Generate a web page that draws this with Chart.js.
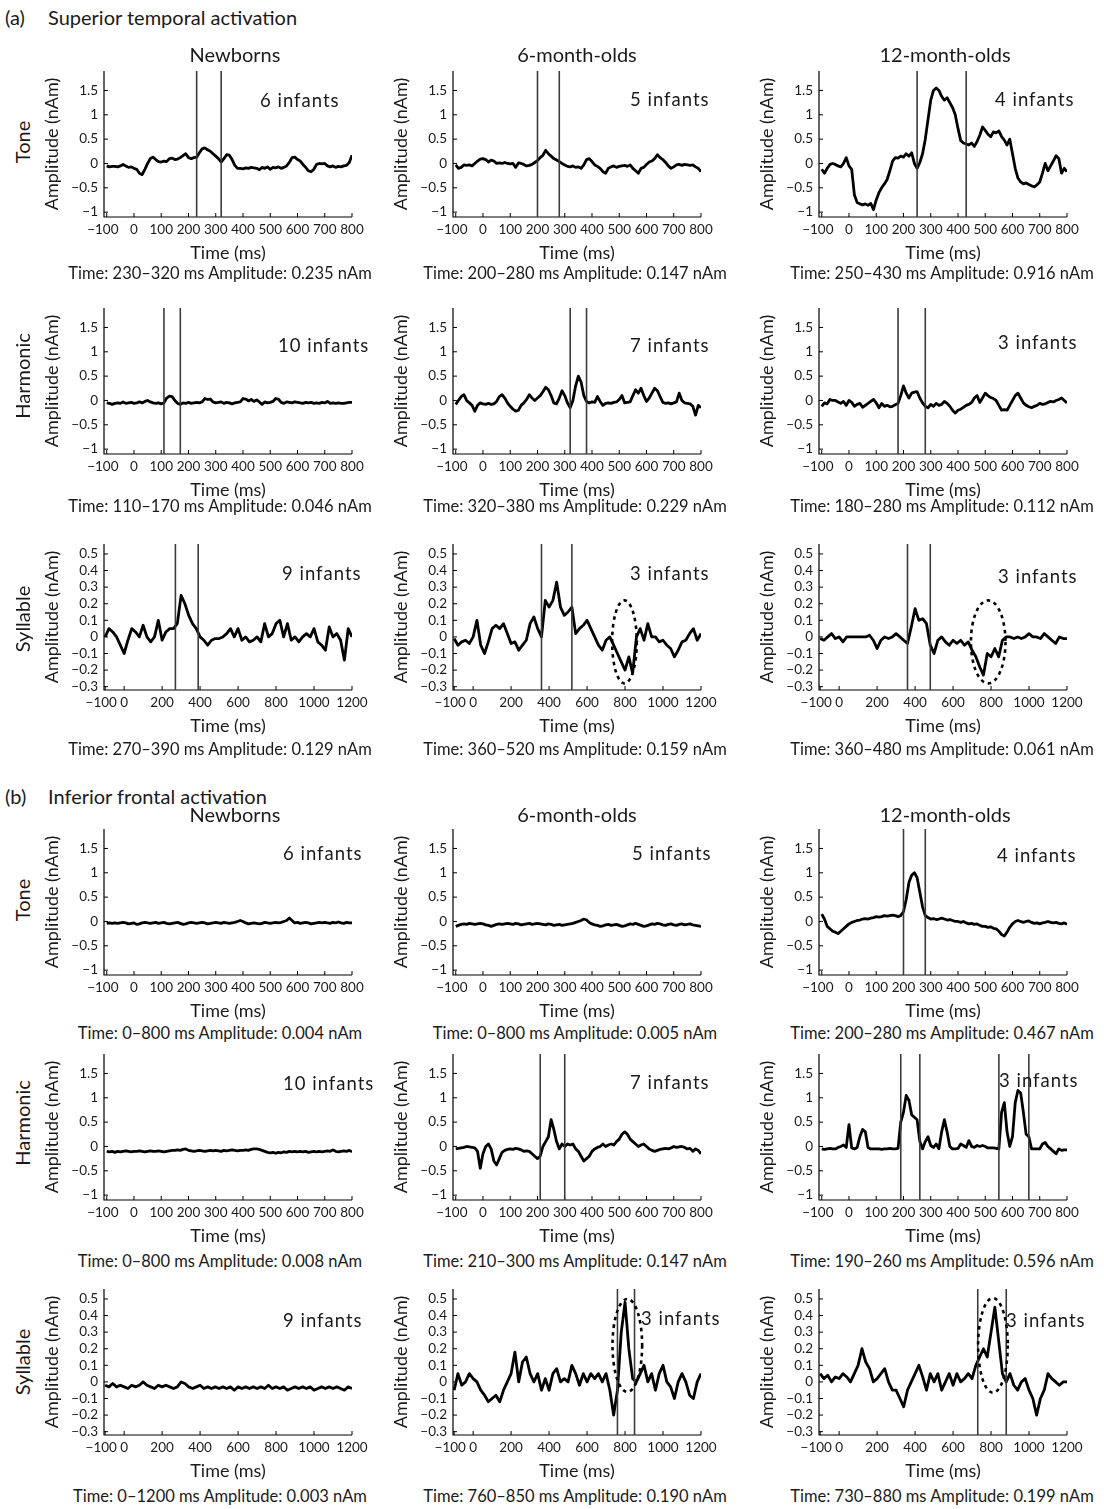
<!DOCTYPE html>
<html>
<head>
<meta charset="utf-8">
<script src="https://cdn.jsdelivr.net/npm/chart.js@4.4.0/dist/chart.umd.min.js"></script>
<style>
body{margin:0;width:1104px;height:1509px;background:#fff;position:relative;overflow:hidden;font-family:Lato,"Open Sans",sans-serif;color:#1a1a1a}
.t{position:absolute;white-space:nowrap;line-height:1.2}
canvas{position:absolute}
</style>
</head>
<body>
<script>
// ==================================================
// Data: time bases, tick labels, source waveforms
// ==================================================
const TIME_A=[-100,-90,-80,-70,-60,-50,-40,-30,-20,-10,0,10,20,30,40,50,60,70,80,90,100,110,120,130,140,150,160,170,180,190,200,210,220,230,240,250,260,270,280,290,300,310,320,330,340,350,360,370,380,390,400,410,420,430,440,450,460,470,480,490,500,510,520,530,540,550,560,570,580,590,600,610,620,630,640,650,660,670,680,690,700,710,720,730,740,750,760,770,780,790,800];
const TIME_B=[-100,-80,-60,-40,-20,0,20,40,60,80,100,120,140,160,180,200,220,240,260,280,300,320,340,360,380,400,420,440,460,480,500,520,540,560,580,600,620,640,660,680,700,720,740,760,780,800,820,840,860,880,900,920,940,960,980,1000,1020,1040,1060,1080,1100,1120,1140,1160,1180,1200];
const XTICKS_A=[-100,0,100,200,300,400,500,600,700,800];
const XTICKS_B=[-100,0,200,400,600,800,1000,1200];
const YTICKS_A=[-1,-0.5,0,0.5,1,1.5];
const YTICKS_B=[-0.3,-0.2,-0.1,0,0.1,0.2,0.3,0.4,0.5];

// (a) superior temporal
const ST_TONE_NB=[-0.05,-0.07,-0.06,-0.06,-0.07,-0.05,-0.02,-0.05,-0.08,-0.07,
 -0.1,-0.12,-0.2,-0.23,-0.12,0.0,0.1,0.13,0.08,0.04,
 0.03,0.05,0.04,0.1,0.11,0.08,0.09,0.12,0.16,0.2,
 0.12,0.1,0.12,0.13,0.22,0.3,0.32,0.28,0.25,0.2,
 0.15,0.1,0.03,0.1,0.18,0.17,0.08,-0.04,-0.1,-0.1,
 -0.11,-0.09,-0.1,-0.08,-0.09,-0.1,-0.13,-0.08,-0.1,-0.07,
 -0.12,-0.08,-0.09,-0.07,-0.1,-0.08,-0.05,0.02,0.12,0.13,
 0.08,0.05,-0.02,-0.08,-0.15,-0.17,-0.12,-0.02,0.0,-0.01,
 0.0,-0.05,-0.07,-0.05,-0.08,-0.06,-0.07,-0.05,-0.04,0.02,
 0.17];
const ST_TONE_6M=[-0.03,-0.1,-0.08,-0.03,-0.04,-0.03,-0.05,0.0,0.05,0.09,
 0.1,0.08,0.03,0.07,0.05,0.0,0.01,0.0,0.02,0.0,
 -0.01,0.0,-0.08,0.01,0.0,-0.02,-0.05,-0.04,-0.02,0.02,
 0.06,0.12,0.17,0.27,0.2,0.15,0.1,0.07,0.04,0.0,
 -0.03,-0.06,-0.07,-0.05,-0.08,-0.07,-0.1,-0.03,0.08,0.1,
 0.04,-0.03,-0.06,-0.1,-0.17,-0.2,-0.1,-0.07,-0.05,-0.08,
 -0.06,-0.05,-0.04,-0.06,-0.03,-0.1,-0.15,-0.2,-0.1,-0.08,
 -0.02,0.03,0.05,0.1,0.18,0.12,0.08,0.02,-0.05,-0.1,
 -0.07,-0.03,-0.02,-0.04,-0.02,-0.03,-0.04,-0.03,-0.07,-0.1,
 -0.17];
const ST_TONE_12M=[-0.12,-0.2,-0.1,-0.02,0.0,-0.02,-0.05,-0.07,0.0,0.12,
 -0.05,-0.12,-0.65,-0.8,-0.83,-0.85,-0.83,-0.86,-0.82,-0.95,
 -0.75,-0.6,-0.5,-0.42,-0.33,-0.15,0.05,0.12,0.11,0.15,
 0.13,0.2,0.15,0.22,0.0,-0.1,0.02,0.2,0.5,0.9,
 1.3,1.5,1.55,1.5,1.38,1.3,1.35,1.25,1.15,1.0,
 0.72,0.47,0.42,0.4,0.38,0.42,0.35,0.45,0.58,0.75,
 0.68,0.6,0.55,0.65,0.63,0.67,0.55,0.48,0.38,0.5,
 0.2,-0.1,-0.3,-0.38,-0.42,-0.4,-0.43,-0.46,-0.48,-0.44,
 -0.38,-0.2,0.0,-0.15,-0.05,0.05,0.16,0.1,-0.2,-0.1,
 -0.17];
const ST_HARM_NB=[-0.05,-0.06,-0.08,-0.06,-0.05,-0.06,-0.03,-0.06,-0.05,-0.04,
 -0.06,-0.05,-0.03,-0.05,-0.02,0.0,-0.03,-0.05,-0.06,-0.05,
 -0.07,-0.05,0.05,0.09,0.08,0.0,-0.06,-0.08,-0.05,-0.06,
 -0.04,-0.06,-0.05,-0.04,-0.05,-0.03,0.04,0.02,0.03,-0.03,
 -0.05,-0.04,-0.03,-0.06,-0.04,-0.05,-0.07,-0.05,-0.04,-0.03,
 0.04,0.03,-0.01,0.02,-0.02,0.01,-0.03,-0.08,-0.03,-0.05,
 -0.04,-0.02,0.04,0.03,-0.04,-0.06,-0.03,-0.04,-0.05,-0.03,
 -0.04,-0.05,-0.06,-0.04,-0.05,-0.04,-0.06,-0.05,-0.06,-0.04,
 -0.05,-0.02,-0.06,-0.05,-0.06,-0.05,-0.06,-0.06,-0.05,-0.04,
 -0.04];
const ST_HARM_6M=[-0.08,0.0,0.08,0.12,0.0,-0.05,-0.1,-0.22,-0.1,-0.05,
 -0.07,-0.08,-0.06,-0.08,-0.07,-0.02,0.08,0.12,0.05,-0.05,
 -0.12,-0.18,-0.22,-0.2,-0.1,-0.05,0.02,0.12,0.05,0.0,
 0.05,0.1,0.18,0.27,0.22,0.1,-0.05,-0.07,0.05,0.2,
 0.1,-0.05,-0.15,0.0,0.3,0.5,0.38,0.1,-0.02,-0.05,
 -0.03,-0.04,0.08,-0.02,-0.1,-0.06,-0.05,-0.06,-0.04,-0.03,
 0.02,0.1,-0.05,-0.04,-0.03,0.1,0.22,0.15,0.25,0.1,
 -0.02,0.05,0.15,0.25,0.2,0.08,-0.04,-0.06,-0.05,-0.07,
 -0.05,-0.03,0.15,0.0,-0.05,-0.06,-0.07,-0.12,-0.3,-0.1,
 -0.15];
const ST_HARM_12M=[-0.12,-0.05,-0.07,0.02,0.0,0.0,-0.03,-0.06,-0.02,-0.1,
 0.0,-0.04,-0.12,-0.08,-0.06,-0.14,-0.1,-0.06,-0.02,0.02,
 -0.05,-0.15,-0.06,-0.12,-0.1,-0.13,-0.12,-0.09,-0.06,0.1,
 0.3,0.15,0.05,0.15,0.17,0.18,0.05,-0.05,-0.12,-0.15,
 -0.08,-0.12,-0.06,-0.1,-0.08,-0.02,-0.06,-0.12,-0.2,-0.26,
 -0.2,-0.18,-0.14,-0.1,-0.08,-0.04,0.05,0.1,-0.04,0.05,
 0.15,0.1,0.06,0.04,0.0,-0.1,-0.2,-0.19,-0.2,-0.1,
 0.0,0.1,0.15,0.05,-0.05,-0.1,-0.13,-0.15,-0.12,-0.1,
 -0.06,-0.08,-0.07,-0.04,-0.02,-0.03,0.0,0.02,0.05,0.0,
 -0.05];
const ST_SYL_NB=[0.0,0.05,0.03,0.0,-0.05,-0.1,-0.02,0.05,0.03,0.0,
 0.07,0.0,-0.03,0.0,0.1,-0.02,0.03,0.05,0.05,0.08,
 0.25,0.2,0.13,0.08,0.05,0.0,-0.02,-0.05,-0.02,-0.01,
 -0.01,0.0,0.02,0.05,0.0,0.05,-0.02,0.0,-0.03,-0.02,
 0.0,-0.03,0.08,0.0,0.02,0.08,0.1,0.0,0.08,-0.02,
 0.0,-0.03,0.0,0.02,0.0,0.05,-0.03,-0.05,-0.08,0.06,
 0.0,0.02,-0.02,-0.14,0.05,0.0];
const ST_SYL_6M=[-0.01,-0.05,-0.03,-0.02,-0.04,0.0,0.1,-0.05,-0.1,-0.03,
 0.05,0.07,0.05,0.08,0.02,-0.04,-0.03,-0.08,-0.05,-0.02,
 0.08,0.12,0.05,0.0,0.22,0.18,0.22,0.33,0.18,0.13,
 0.15,0.18,0.02,0.05,0.07,0.1,0.05,0.0,-0.05,-0.08,
 -0.02,0.0,-0.05,-0.1,-0.15,-0.2,-0.12,-0.22,0.0,0.05,
 -0.02,0.08,0.0,0.0,-0.03,-0.02,-0.05,-0.07,-0.12,-0.08,
 -0.03,-0.02,0.02,0.05,-0.02,0.02];
const ST_SYL_12M=[-0.01,-0.02,0.0,0.02,-0.01,0.0,-0.03,0.0,0.0,0.0,
 0.0,0.0,0.0,0.01,-0.02,-0.07,-0.02,0.0,-0.01,0.0,
 0.02,0.0,-0.02,-0.04,0.06,0.17,0.1,0.11,0.08,-0.05,
 -0.1,-0.02,0.0,-0.03,-0.05,-0.02,-0.04,-0.02,-0.05,-0.03,
 -0.08,-0.12,-0.18,-0.23,-0.1,-0.12,-0.07,-0.12,-0.02,0.0,
 0.0,-0.01,0.0,-0.01,0.0,0.02,0.0,0.0,-0.01,0.02,
 0.0,-0.02,-0.04,0.0,-0.01,-0.01];

// (b) inferior frontal
const IF_TONE_NB=[-0.04,-0.03,-0.04,-0.03,-0.04,-0.03,-0.02,-0.03,-0.05,-0.04,
 -0.03,-0.06,-0.05,-0.03,-0.02,-0.03,-0.04,-0.03,-0.02,-0.04,
 -0.03,-0.02,-0.04,-0.05,-0.04,-0.03,-0.02,-0.04,-0.06,-0.05,
 -0.03,-0.02,-0.03,-0.04,-0.03,-0.02,-0.03,-0.05,-0.04,-0.03,
 -0.02,-0.03,-0.04,-0.02,-0.03,-0.04,-0.03,-0.02,0.0,0.02,
 0.0,-0.03,-0.05,-0.04,-0.03,-0.04,-0.05,-0.04,-0.02,-0.03,
 -0.04,-0.03,-0.02,-0.03,-0.02,0.0,0.02,0.07,0.02,-0.03,
 -0.02,-0.04,-0.03,-0.02,-0.03,-0.05,-0.04,-0.03,-0.02,-0.03,
 -0.02,-0.03,-0.04,-0.02,-0.03,-0.01,-0.03,-0.04,-0.02,-0.03,
 -0.03];
const IF_TONE_6M=[-0.1,-0.08,-0.06,-0.05,-0.06,-0.04,-0.05,-0.06,-0.05,-0.04,
 -0.05,-0.07,-0.08,-0.1,-0.08,-0.06,-0.05,-0.06,-0.05,-0.04,
 -0.05,-0.06,-0.04,-0.05,-0.07,-0.06,-0.05,-0.04,-0.06,-0.05,
 -0.04,-0.05,-0.06,-0.07,-0.05,-0.06,-0.08,-0.07,-0.06,-0.08,
 -0.07,-0.06,-0.05,-0.04,-0.02,0.0,0.02,0.05,0.03,-0.02,
 -0.05,-0.07,-0.08,-0.1,-0.09,-0.07,-0.06,-0.08,-0.07,-0.06,
 -0.08,-0.1,-0.09,-0.07,-0.05,-0.06,-0.04,-0.06,-0.08,-0.1,
 -0.09,-0.07,-0.05,-0.06,-0.04,-0.05,-0.07,-0.08,-0.06,-0.05,
 -0.07,-0.08,-0.06,-0.05,-0.07,-0.06,-0.05,-0.07,-0.08,-0.09,
 -0.1];
const IF_TONE_12M=[0.15,0.05,-0.1,-0.15,-0.2,-0.22,-0.25,-0.2,-0.15,-0.1,
 -0.05,-0.02,0.0,0.02,0.03,0.05,0.06,0.05,0.07,0.08,
 0.1,0.09,0.1,0.12,0.11,0.12,0.13,0.12,0.1,0.12,
 0.2,0.45,0.8,0.95,1.0,0.9,0.6,0.3,0.12,0.08,
 0.05,0.06,0.04,0.05,0.07,0.05,0.03,0.04,0.02,0.0,
 0.0,-0.02,0.0,-0.03,-0.05,-0.04,-0.06,-0.05,-0.08,-0.1,
 -0.1,-0.12,-0.11,-0.14,-0.15,-0.2,-0.27,-0.3,-0.22,-0.12,
 -0.05,0.0,0.02,0.0,-0.02,0.0,0.01,-0.02,-0.04,-0.03,
 -0.05,-0.03,-0.02,0.0,-0.02,-0.03,-0.02,-0.04,-0.05,-0.03,
 -0.06];
const IF_HARM_NB=[-0.1,-0.11,-0.1,-0.12,-0.1,-0.11,-0.1,-0.09,-0.1,-0.11,
 -0.1,-0.1,-0.09,-0.1,-0.11,-0.1,-0.09,-0.1,-0.1,-0.09,
 -0.1,-0.11,-0.1,-0.09,-0.08,-0.08,-0.07,-0.08,-0.06,-0.05,
 -0.08,-0.09,-0.1,-0.09,-0.08,-0.09,-0.1,-0.09,-0.08,-0.09,
 -0.08,-0.09,-0.1,-0.08,-0.09,-0.08,-0.07,-0.08,-0.09,-0.08,
 -0.08,-0.07,-0.08,-0.06,-0.05,-0.05,-0.06,-0.08,-0.1,-0.12,
 -0.13,-0.12,-0.14,-0.12,-0.13,-0.11,-0.12,-0.1,-0.11,-0.1,
 -0.11,-0.1,-0.11,-0.1,-0.12,-0.11,-0.1,-0.11,-0.1,-0.11,
 -0.1,-0.09,-0.1,-0.07,-0.1,-0.11,-0.1,-0.09,-0.1,-0.08,
 -0.11];
const IF_HARM_6M=[-0.05,-0.04,-0.03,-0.02,0.0,-0.01,-0.02,-0.03,-0.1,-0.45,
 -0.15,0.0,0.05,-0.05,-0.3,-0.38,-0.25,-0.12,-0.08,-0.06,
 -0.05,-0.06,-0.04,-0.05,-0.07,-0.1,-0.09,-0.1,-0.15,-0.2,
 -0.25,-0.2,0.0,0.1,0.2,0.55,0.35,0.1,-0.05,0.05,
 0.0,0.05,0.03,0.05,-0.05,-0.1,-0.2,-0.3,-0.25,-0.2,
 -0.1,-0.05,-0.02,0.0,0.05,0.0,0.03,0.05,0.03,0.1,
 0.15,0.25,0.3,0.25,0.15,0.1,0.05,0.0,0.03,0.05,
 0.0,-0.05,-0.08,-0.1,-0.08,-0.06,-0.05,-0.04,-0.05,-0.03,
 0.0,-0.02,-0.01,0.0,-0.02,-0.05,-0.04,-0.1,-0.05,-0.08,
 -0.15];
const IF_HARM_12M=[-0.05,-0.06,-0.05,-0.04,-0.05,-0.05,-0.02,0.0,0.03,-0.02,
 0.45,-0.03,-0.05,-0.02,0.2,0.35,0.3,-0.02,-0.05,-0.05,
 -0.05,-0.05,-0.06,-0.05,-0.05,-0.04,-0.05,-0.05,-0.04,0.5,
 0.7,1.05,0.95,0.65,0.6,0.55,0.1,-0.05,0.1,0.2,
 0.02,-0.02,0.05,-0.05,0.3,0.55,0.3,0.0,-0.05,-0.05,
 -0.04,0.05,0.02,-0.02,0.12,0.0,-0.02,0.02,0.0,0.02,
 0.0,-0.03,-0.03,-0.03,-0.04,-0.05,0.7,0.9,0.3,0.0,
 0.2,0.9,1.15,1.1,0.7,0.25,0.2,-0.05,-0.05,-0.05,
 -0.05,0.05,0.08,0.0,-0.05,-0.1,-0.15,-0.05,-0.08,-0.07,
 -0.07];
const IF_SYL_NB=[-0.02,-0.03,-0.01,-0.03,-0.02,-0.03,-0.04,-0.02,-0.03,-0.02,
 0.0,-0.02,-0.03,-0.04,-0.02,-0.03,-0.02,-0.03,-0.04,-0.03,
 0.0,-0.01,-0.03,-0.04,-0.03,-0.02,-0.04,-0.03,-0.04,-0.03,
 -0.04,-0.03,-0.04,-0.03,-0.05,-0.03,-0.04,-0.03,-0.04,-0.03,
 -0.04,-0.03,-0.04,-0.02,-0.04,-0.03,-0.04,-0.03,-0.05,-0.04,
 -0.03,-0.04,-0.03,-0.04,-0.03,-0.05,-0.04,-0.03,-0.04,-0.03,
 -0.04,-0.03,-0.04,-0.05,-0.03,-0.04];
const IF_SYL_6M=[-0.05,0.05,-0.02,0.0,0.05,0.02,0.0,-0.05,-0.08,-0.12,
 -0.1,-0.08,-0.12,-0.05,0.0,0.05,0.18,0.0,0.12,0.15,
 0.05,0.0,0.05,-0.05,0.02,-0.05,0.05,0.08,0.0,0.02,
 0.0,0.1,0.05,-0.02,0.05,0.0,0.05,0.02,0.05,0.0,
 0.05,-0.05,-0.2,-0.05,0.3,0.48,0.2,0.02,0.0,0.05,
 0.1,0.0,0.05,-0.05,0.05,0.1,0.0,-0.03,-0.1,0.0,
 0.05,0.0,-0.08,-0.1,0.0,0.05];
const IF_SYL_12M=[0.05,0.02,0.04,0.0,0.03,0.02,0.05,0.03,0.0,0.05,
 0.1,0.2,0.12,0.08,0.0,0.02,0.05,0.08,0.0,-0.05,
 -0.05,-0.1,-0.15,-0.05,0.0,0.05,0.1,0.03,-0.05,0.05,
 0.0,0.05,-0.05,0.0,0.05,-0.02,0.05,0.0,0.02,0.05,
 0.02,0.1,0.15,0.2,0.15,0.3,0.45,0.25,0.05,0.0,
 0.05,-0.02,-0.05,0.0,0.02,-0.05,-0.1,-0.2,-0.1,-0.05,
 0.05,0.02,0.0,-0.02,0.0,0.0];

// Analysis windows (ms), subject counts, summary captions
const WINDOWS=[[230,320],[200,280],[250,430],[110,170],[320,380],[180,280],[270,390],[360,520],[360,480],
 [],[],[200,280],[],[210,300],[190,260,550,660],[],[760,850],[730,880]];
const INFANTS=[6,5,4,10,7,3,9,3,3, 6,5,4,10,7,3,9,3,3];
const CAPTIONS=['Time: 230–320 ms Amplitude: 0.235 nAm','Time: 200–280 ms Amplitude: 0.147 nAm','Time: 250–430 ms Amplitude: 0.916 nAm',
 'Time: 110–170 ms Amplitude: 0.046 nAm','Time: 320–380 ms Amplitude: 0.229 nAm','Time: 180–280 ms Amplitude: 0.112 nAm',
 'Time: 270–390 ms Amplitude: 0.129 nAm','Time: 360–520 ms Amplitude: 0.159 nAm','Time: 360–480 ms Amplitude: 0.061 nAm',
 'Time: 0–800 ms Amplitude: 0.004 nAm','Time: 0–800 ms Amplitude: 0.005 nAm','Time: 200–280 ms Amplitude: 0.467 nAm',
 'Time: 0–800 ms Amplitude: 0.008 nAm','Time: 210–300 ms Amplitude: 0.147 nAm','Time: 190–260 ms Amplitude: 0.596 nAm',
 'Time: 0–1200 ms Amplitude: 0.003 nAm','Time: 760–850 ms Amplitude: 0.190 nAm','Time: 730–880 ms Amplitude: 0.199 nAm'];
// dashed ellipses marking late responses (data units)
const ELLIPSES={7:{cx:797,cy:-0.03,rx:65,ry:0.25},8:{cx:785,cy:-0.03,rx:91,ry:0.25},
 16:{cx:812,cy:0.22,rx:78,ry:0.28},17:{cx:810,cy:0.22,rx:78,ry:0.285}};
const GROUPS=['Newborns','6-month-olds','12-month-olds'];
const STIMULI=['Tone','Harmonic','Syllable'];

const SERIES=[ST_TONE_NB,ST_TONE_6M,ST_TONE_12M,ST_HARM_NB,ST_HARM_6M,ST_HARM_12M,ST_SYL_NB,ST_SYL_6M,ST_SYL_12M,
 IF_TONE_NB,IF_TONE_6M,IF_TONE_12M,IF_HARM_NB,IF_HARM_6M,IF_HARM_12M,IF_SYL_NB,IF_SYL_6M,IF_SYL_12M];

// ==================================================
// Layout (page pixels)
// ==================================================
const COL_L=[104,453,819],PLOT_W=248,PLOT_H=146;
const ROW_T=[71,308,544,829,1054,1289];
const YAX_W=63,XAX_H=47,PAD_T=20,PAD_R=24;
const HEAD_X=[235,577,945],CAP_X=[220,575,942];
const HEAD_Y=[54,814],ROWLBL_Y=[142,376,619,900,1123,1362];
const INF_X=[260,630,995, 278,630,998, 282,630,998, 283,632,997, 283,630,999, 283,641,1006];
const INF_Y=[100,99,99, 345,345,342, 573,573,576, 853,853,855, 1083,1082,1080, 1320,1318,1320];
const CAP_Y=[274,507,750,1034,1262,1497];

Chart.defaults.font.family='Lato';
Chart.defaults.color='#1a1a1a';

function txt(s,x,y,size,align,rot,ls){
  const d=document.createElement('div');d.className='t';d.textContent=s;
  d.style.left=x+'px';d.style.top=y+'px';d.style.fontSize=size+'px';
  if(ls)d.style.letterSpacing=ls+'px';
  const tx=align==='center'?'-50%':align==='right'?'-100%':'0';
  d.style.transform=`translate(${tx},-50%)`+(rot?' rotate(-90deg)':'');
  document.body.appendChild(d);
}
function fmt(v){const r=Math.round(v*10)/10;return r<0?'−'+Math.abs(r):String(r);}
// negative x labels: centre the digits on the tick, minus sign hangs left (figure space pads the right)
function fmtX(v){return v<0?'−'+Math.abs(v)+'\u2007':String(v);}

// inward ticks, axis lines, analysis windows, ellipse
function deco(xt,yt,marks,ell){return{id:'deco',afterDatasetsDraw(chart){
  const {ctx,chartArea:a,scales:{x,y}}=chart;
  ctx.save();ctx.strokeStyle='#000';ctx.lineWidth=1.2;
  ctx.beginPath();ctx.moveTo(a.left,a.top);ctx.lineTo(a.left,a.bottom);ctx.lineTo(a.right,a.bottom);ctx.stroke();
  ctx.lineWidth=1;
  xt.forEach(v=>{const px=x.getPixelForValue(v);ctx.beginPath();ctx.moveTo(px,a.bottom);ctx.lineTo(px,a.bottom-4);ctx.stroke();});
  yt.forEach(v=>{const py=y.getPixelForValue(v);ctx.beginPath();ctx.moveTo(a.left,py);ctx.lineTo(a.left+4,py);ctx.stroke();});
  ctx.strokeStyle='#3c3c3c';ctx.lineWidth=1.6;
  marks.forEach(v=>{const px=x.getPixelForValue(v);ctx.beginPath();ctx.moveTo(px,a.top);ctx.lineTo(px,a.bottom);ctx.stroke();});
  if(ell){
    const cx=x.getPixelForValue(ell.cx),cy=y.getPixelForValue(ell.cy);
    const rx=Math.abs(x.getPixelForValue(ell.cx+ell.rx)-cx),ry=Math.abs(y.getPixelForValue(ell.cy+ell.ry)-cy);
    ctx.strokeStyle='#000';ctx.lineWidth=2.6;ctx.setLineDash([3.5,4]);
    ctx.beginPath();ctx.ellipse(cx,cy,rx,ry,0,0,Math.PI*2);ctx.stroke();
  }
  ctx.restore();
}};}

// ==================================================
// Panels
// ==================================================
SERIES.forEach((vals,i)=>{
  const row=Math.floor(i/3),col=i%3,syl=row%3===2;
  const time=syl?TIME_B:TIME_A,xt=syl?XTICKS_B:XTICKS_A,yt=syl?YTICKS_B:YTICKS_A;
  const cv=document.createElement('canvas');
  const w=YAX_W+PLOT_W+PAD_R,h=PAD_T+PLOT_H+XAX_H;
  cv.width=w;cv.height=h;cv.style.width=w+'px';cv.style.height=h+'px';
  cv.style.left=(COL_L[col]-YAX_W)+'px';cv.style.top=(ROW_T[row]-PAD_T)+'px';
  document.body.appendChild(cv);
  new Chart(cv.getContext('2d'),{type:'line',
    data:{datasets:[{data:time.map((t,k)=>({x:t,y:vals[k]})),borderColor:'#000',borderWidth:2.8,pointRadius:0,tension:0,borderJoinStyle:'round'}]},
    options:{responsive:false,animation:false,events:[],
      layout:{padding:{top:PAD_T,right:PAD_R,left:0,bottom:0}},
      plugins:{legend:{display:false},tooltip:{enabled:false}},
      scales:{
        x:{type:'linear',min:syl?-106:-110,max:syl?1200:800,
          afterBuildTicks:s=>{s.ticks=xt.map(v=>({value:v}));},afterFit:s=>{s.height=XAX_H;},
          grid:{display:false,drawTicks:false},border:{display:false},
          ticks:{autoSkip:false,maxRotation:0,padding:4.5,color:'#1a1a1a',font:{size:13.5},callback:fmtX},
          title:{display:true,text:'Time (ms)',padding:0,font:{size:18},color:'#1a1a1a'}},
        y:{min:syl?-0.32:-1.1,max:syl?0.56:1.9,
          afterBuildTicks:s=>{s.ticks=yt.map(v=>({value:v}));},afterFit:s=>{s.width=YAX_W;},
          grid:{display:false,drawTicks:false},border:{display:false},
          ticks:{autoSkip:false,padding:6,font:{size:13.5},color:'#1a1a1a',callback:v=>fmt(v)},
          title:{display:true,text:'Amplitude (nAm)',padding:0,font:{size:18},color:'#1a1a1a'}}
      }},
    plugins:[deco(xt,yt,WINDOWS[i],ELLIPSES[i])]});
  txt(INFANTS[i]+' infants',INF_X[i],INF_Y[i],18.5,'left',false,1);
  txt(CAPTIONS[i],CAP_X[col],CAP_Y[row],16.5,'center');
});

// ==================================================
// Headings and row labels
// ==================================================
txt('(a)',5,17,20,'left');txt('Superior temporal activation',48,17,20,'left');
txt('(b)',5,796,20,'left');txt('Inferior frontal activation',48,796,20,'left');
HEAD_Y.forEach(y=>GROUPS.forEach((g,c)=>txt(g,HEAD_X[c],y,20,'center')));
ROWLBL_Y.forEach((y,r)=>txt(STIMULI[r%3],22,y,20,'center',true));
</script>
</body>
</html>
